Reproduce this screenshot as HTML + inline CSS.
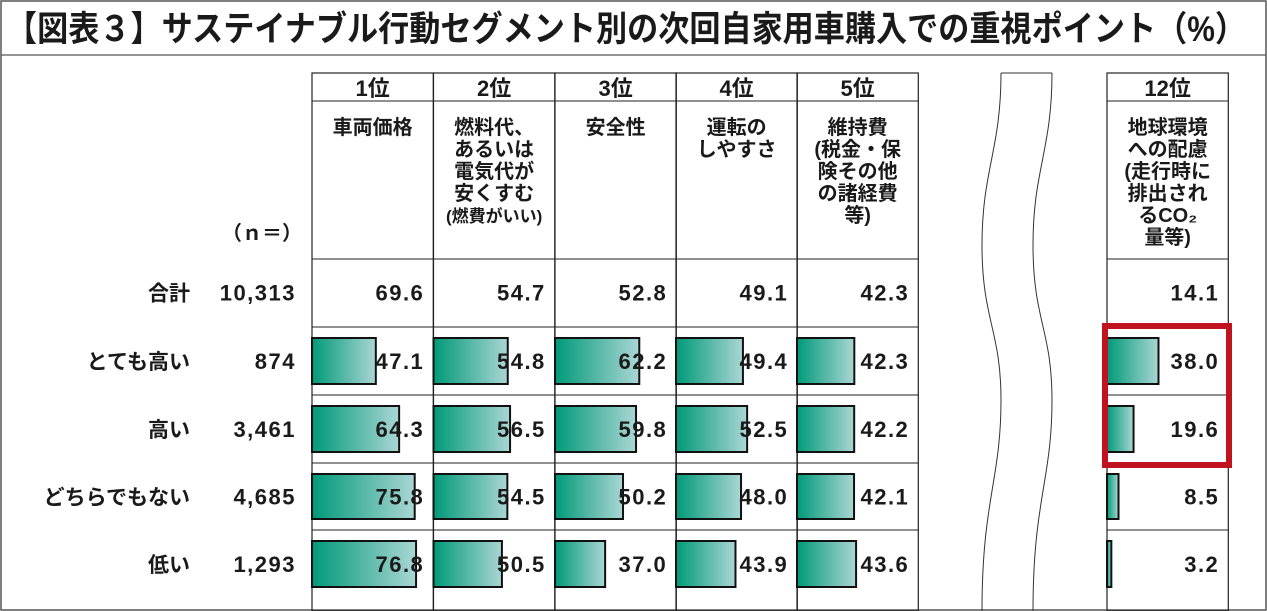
<!DOCTYPE html>
<html><head><meta charset="utf-8"><style>
html,body{margin:0;padding:0;background:#fff}
svg{display:block}
text{font-family:"Liberation Sans","Noto Sans CJK JP",sans-serif;font-weight:bold;fill:#1a1a1a}
.num{font-family:"Liberation Sans Narrow","Liberation Sans","Noto Sans CJK JP",sans-serif;letter-spacing:1.5px}
</style></head><body>
<svg id="chart" width="1267" height="611" viewBox="0 0 1267 611" xmlns="http://www.w3.org/2000/svg">
<defs>
<linearGradient id="g" x1="0" x2="1" y1="0" y2="0"><stop offset="0" stop-color="#009a78"/><stop offset="1" stop-color="#aad6d4"/></linearGradient>
</defs>
<rect x="1" y="1" width="1265" height="609" fill="none" stroke="#555" stroke-width="1.5"/>
<line x1="1" y1="55" x2="1266" y2="55" stroke="#555" stroke-width="1.2"/>
<text x="6" y="41" font-size="35" textLength="1240" lengthAdjust="spacingAndGlyphs">【図表３】サステイナブル行動セグメント別の次回自家用車購入での重視ポイント（%）</text>
<path d="M1001,73 C1001,150 982,170 982,245 C982,320 1001,330 1001,400 C1001,480 982,500 982,611" fill="none" stroke="#333" stroke-width="1"/>
<path d="M1052,73 C1052,150 1033,170 1033,245 C1033,320 1052,330 1052,400 C1052,480 1033,500 1033,611" fill="none" stroke="#333" stroke-width="1"/>
<line x1="1001" y1="73" x2="1052" y2="73" stroke="#333"/>
<g id="grid"></g>
<g id="heads"></g>
<g id="rows"></g>
<g id="marks"></g>
<text x="222" y="240" font-size="20">（ｎ＝）</text>
<rect x="1105" y="326" width="124" height="139" fill="none" stroke="#c0121f" stroke-width="6"/>
</svg>
<script>
const ranks=["1位","2位","3位","4位","5位","12位"];
const items=[["車両価格"],["燃料代、","あるいは","電気代が","安くすむ","(燃費がいい)"],["安全性"],["運転の","しやすさ"],["維持費","(税金・保","険その他","の諸経費","等)"],["地球環境","への配慮","(走行時に","排出され","るCO₂","量等)"]];
const segments=["合計","とても高い","高い","どちらでもない","低い"];
const nValues=["10,313","874","3,461","4,685","1,293"];
const totals=[69.6,54.7,52.8,49.1,42.3,14.1];
const seg1=[47.1,54.8,62.2,49.4,42.3,38.0];
const seg2=[64.3,56.5,59.8,52.5,42.2,19.6];
const seg3=[75.8,54.5,50.2,48.0,42.1,8.5];
const seg4=[76.8,50.5,37.0,43.9,43.6,3.2];
const series=[seg1,seg2,seg3,seg4];
const NS="http://www.w3.org/2000/svg";
const colX=[312,433.5,555,676,797,1107];
const colW=121.3;
const rowTop=[259,327,395,463,530];
const rowH=[67,68,68,67,68];
function xs(v){return v*1.355;}
function mk(tag,parent,attrs){const e=document.createElementNS(NS,tag);for(const k in attrs)e.setAttribute(k,attrs[k]);parent.appendChild(e);return e;}
const grid=document.getElementById('grid'),heads=document.getElementById('heads'),rows=document.getElementById('rows'),marks=document.getElementById('marks');
colX.forEach((x,i)=>{
  const r=mk('rect',grid,{x:x,y:73,width:colW,height:538,fill:'none',stroke:'#222','stroke-width':1.2});
  
  
  [101,259,327,395,463,530].forEach(y=>{const l=mk('line',grid,{x1:x,x2:x+colW,y1:y,y2:y,stroke:'#222','stroke-width':1});
    
    });
  const t=mk('text',heads,{x:x+colW/2,y:96,'font-size':22,'text-anchor':'middle'});t.textContent=ranks[i];
  
  
  items[i].forEach((s,j)=>{const small=s.startsWith('(')&&i==1;
    const tt=mk('text',heads,{x:x+colW/2,y:134+j*22,'font-size':small?17:20,'text-anchor':'middle'});tt.textContent=s;
    
    });
  const tv=mk('text',heads,{x:x+colW-9,y:rowTop[0]+rowH[0]/2+8,'font-size':22,'text-anchor':'end','class':'num'});tv.textContent=totals[i].toFixed(1);
  
  
  series.forEach((s,k)=>{const top=rowTop[k+1],h=rowH[k+1];
    const b=mk('rect',marks,{x:x,y:top+11,width:xs(s[i]),height:h-22,fill:'url(#g)',stroke:'#111','stroke-width':2});
    
    
    const v=mk('text',marks,{x:x+colW-9,y:top+h/2+8,'font-size':22,'text-anchor':'end','class':'num'});v.textContent=s[i].toFixed(1);
    
    });
});
segments.forEach((s,k)=>{const y=rowTop[k]+rowH[k]/2+8;
  const a=mk('text',rows,{x:190,y:y,'font-size':21,'text-anchor':'end'});a.textContent=s;
  
  
  const n=mk('text',rows,{x:296,y:y,'font-size':22,'text-anchor':'end','class':'num'});n.textContent=nValues[k];
  
  });
</script>
</body></html>
